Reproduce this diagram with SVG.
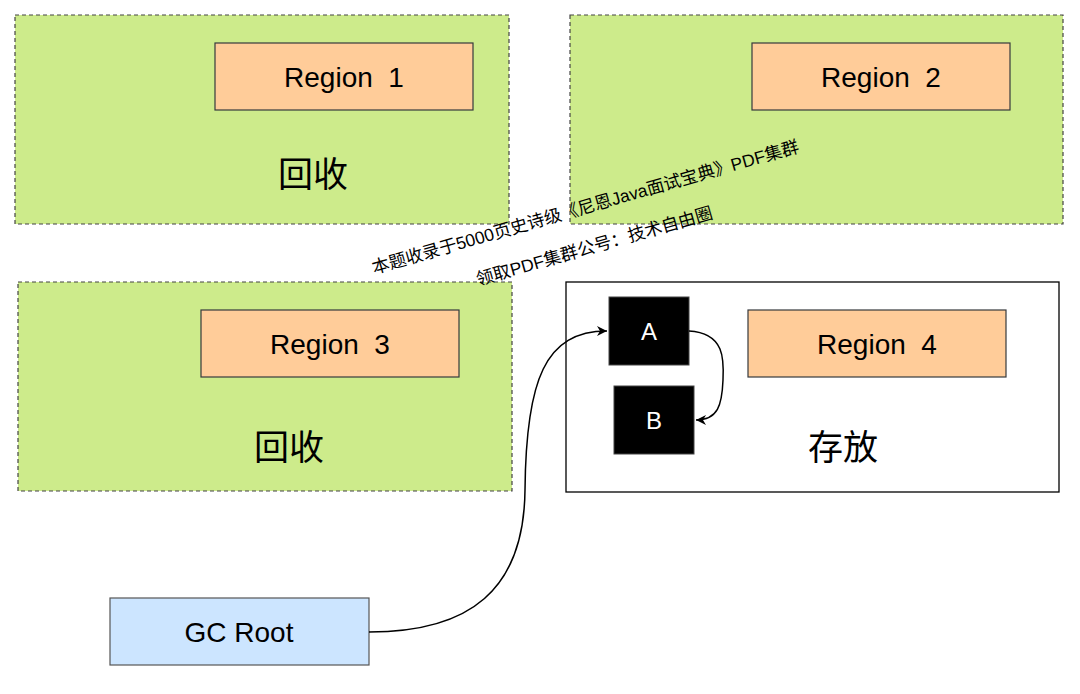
<svg xmlns="http://www.w3.org/2000/svg" width="1080" height="694" viewBox="0 0 1080 694">
<style>
.grp{fill:#cdeb8b;stroke:#444;stroke-width:1.2;stroke-dasharray:4 3}
.reg{fill:#ffcc99;stroke:#36393d;stroke-width:1.2}
.lbl{font-family:"Liberation Sans",Arial,sans-serif;font-size:28px;fill:#000;text-anchor:middle;dominant-baseline:central;white-space:pre}
.big{font-family:"Noto Sans CJK SC",sans-serif;font-size:35px;fill:#000;text-anchor:middle;dominant-baseline:central}
.blk{fill:#000;stroke:#444;stroke-width:1}
.wt{font-family:"Liberation Sans",Arial,sans-serif;font-size:24px;fill:#fff;text-anchor:middle;dominant-baseline:central}
.edge{fill:none;stroke:#000;stroke-width:1.5}
.wm{font-family:"Liberation Sans","Noto Sans CJK SC",sans-serif;font-size:17.5px;fill:#000;text-anchor:middle}
</style>
<defs>
<marker id="arr" viewBox="0 0 12 12" refX="11" refY="6" markerWidth="12" markerHeight="12" markerUnits="userSpaceOnUse" orient="auto">
<path d="M1,1 L11,6 L1,11 L4,6 Z" fill="#000"/>
</marker>
</defs>
<rect width="1080" height="694" fill="#fff"/>
<g id="group1">
<rect class="grp" x="15" y="15" width="494" height="209"/>
<rect class="reg" x="215" y="43" width="258" height="67"/>
<text class="lbl" x="344" y="77" xml:space="preserve">Region  1</text>
<text class="big" x="313" y="171">回收</text>
</g>
<g id="group2">
<rect class="grp" x="570" y="15" width="493" height="209"/>
<rect class="reg" x="752" y="43" width="258" height="67"/>
<text class="lbl" x="881" y="77" xml:space="preserve">Region  2</text>
</g>
<g id="group3">
<rect class="grp" x="18" y="282" width="494" height="209"/>
<rect class="reg" x="201" y="310" width="258" height="67"/>
<text class="lbl" x="330" y="344" xml:space="preserve">Region  3</text>
<text class="big" x="289" y="444">回收</text>
</g>
<g id="group4">
<rect x="566" y="282" width="493" height="210" fill="#fff" stroke="#000" stroke-width="1.3"/>
<rect class="reg" x="748" y="310" width="258" height="67"/>
<text class="lbl" x="877" y="344" xml:space="preserve">Region  4</text>
<text class="big" x="843" y="444">存放</text>
</g>
<g id="nodeA">
<rect class="blk" x="609" y="297" width="80" height="68"/>
<text class="wt" x="649" y="331">A</text>
</g>
<g id="nodeB">
<rect class="blk" x="614" y="386" width="80" height="68"/>
<text class="wt" x="654" y="420">B</text>
</g>
<g id="gcroot">
<rect x="110" y="598" width="259" height="67" fill="#cce5ff" stroke="#555" stroke-width="1.2"/>
<text class="lbl" x="239" y="632">GC Root</text>
</g>
<g id="connectors">
<path class="edge" d="M369,632 C470,632 524,590 525,490 C526,380 545,331 607,331" marker-end="url(#arr)"/>
<path class="edge" d="M689,331 C725,333 724,360 723,380 C722,405 718,420 696,420" marker-end="url(#arr)"/>
</g>
<g id="watermark">
<text class="wm" transform="translate(587,213) rotate(-16)">本题收录于5000页史诗级《尼恩Java面试宝典》PDF集群</text>
<text class="wm" transform="translate(596,252) rotate(-16)">领取PDF集群公号：技术自由圈</text>
</g>
</svg>
